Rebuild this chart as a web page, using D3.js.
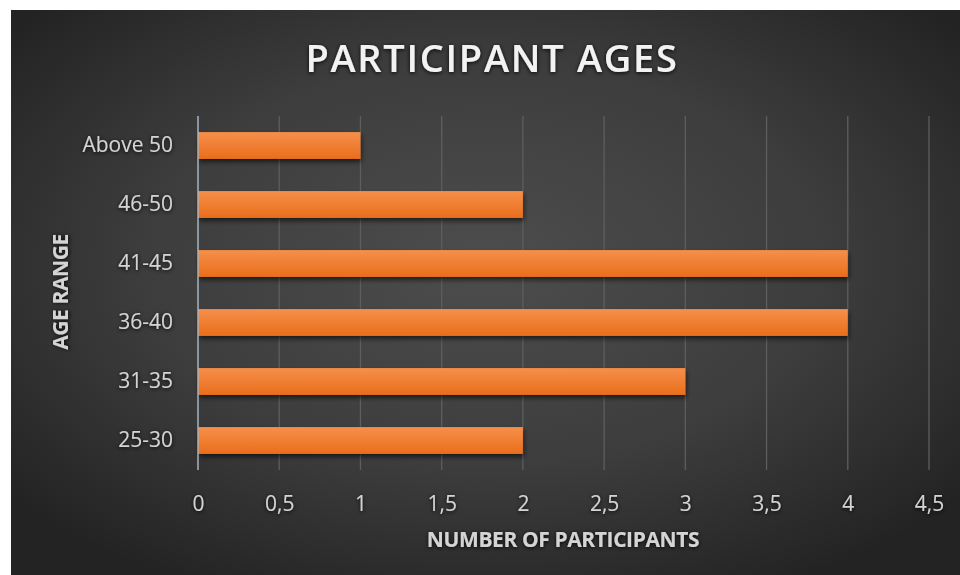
<!DOCTYPE html>
<html>
<head>
<meta charset="utf-8">
<script src="https://cdn.jsdelivr.net/npm/d3@7"></script>
<style>
  html, body { margin: 0; padding: 0; background: #ffffff; }
  svg { display: block; }
  text { font-family: "Open Sans", "Noto Sans", sans-serif; }
</style>
</head>
<body>
<svg id="chart" width="960" height="575"></svg>
<script>
// Participant counts per age range (top to bottom)
const categories = ["Above 50", "46-50", "41-45", "36-40", "31-35", "25-30"];
const participants = [1, 2, 4, 4, 3, 2];
const xTicks = [0, 0.5, 1, 1.5, 2, 2.5, 3, 3.5, 4, 4.5];
const title = "PARTICIPANT AGES";
const xTitle = "NUMBER OF PARTICIPANTS";
const yTitle = "AGE RANGE";

const svg = d3.select("#chart");
const W = 960, H = 575;
const frame = { x: 11, y: 10 };
const plot = { left: 198, right: 929, top: 116, bottom: 470 };

const defs = svg.append("defs");

// Dark radial backdrop
const bg = defs.append("radialGradient").attr("id", "bg")
  .attr("cx", "50%").attr("cy", "45%").attr("r", "65%");
bg.append("stop").attr("offset", "0%").attr("stop-color", "#4d4d4d");
bg.append("stop").attr("offset", "55%").attr("stop-color", "#3d3d3d");
bg.append("stop").attr("offset", "100%").attr("stop-color", "#232323");

// Orange bar fill, lighter at the top
const barGrad = defs.append("linearGradient").attr("id", "bar")
  .attr("x1", 0).attr("y1", 0).attr("x2", 0).attr("y2", 1);
barGrad.append("stop").attr("offset", "0%").attr("stop-color", "#f68f4a");
barGrad.append("stop").attr("offset", "100%").attr("stop-color", "#e96e1b");

const shadow = defs.append("filter").attr("id", "shadow")
  .attr("x", "-5%").attr("y", "-30%").attr("width", "110%").attr("height", "180%");
shadow.append("feDropShadow").attr("dx", 1).attr("dy", 3).attr("stdDeviation", 2.5)
  .attr("flood-color", "#000").attr("flood-opacity", 0.6);

const glow = defs.append("filter").attr("id", "glow")
  .attr("x", "-10%").attr("y", "-40%").attr("width", "120%").attr("height", "180%");
glow.append("feDropShadow").attr("dx", 0).attr("dy", 1).attr("stdDeviation", 2)
  .attr("flood-color", "#000").attr("flood-opacity", 0.9);

svg.append("rect").attr("x", frame.x).attr("y", frame.y)
  .attr("width", W - frame.x).attr("height", H - frame.y)
  .attr("fill", "url(#bg)");

const x = d3.scaleLinear().domain([0, 4.5]).range([plot.left, plot.right]);
const y = d3.scaleBand().domain(categories).range([plot.top, plot.bottom])
  .paddingInner(0.545).paddingOuter(0.2725);

// Vertical gridlines
svg.append("g").selectAll("line").data(xTicks.filter(d => d > 0)).join("line")
  .attr("x1", d => x(d)).attr("x2", d => x(d))
  .attr("y1", plot.top).attr("y2", plot.bottom)
  .attr("stroke", "#5e5e5e").attr("stroke-width", 1.3);

// Bars
svg.append("g").selectAll("rect").data(categories).join("rect")
  .attr("x", x(0))
  .attr("y", d => y(d))
  .attr("width", (d, i) => x(participants[i]) - x(0))
  .attr("height", y.bandwidth())
  .attr("fill", "url(#bar)")
  .attr("filter", "url(#shadow)");

// Value axis line at zero
svg.append("line").attr("x1", x(0)).attr("x2", x(0))
  .attr("y1", plot.top).attr("y2", plot.bottom)
  .attr("stroke", "#a9b4c2").attr("stroke-width", 1.5);

// X axis tick labels
const xAxis = d3.axisBottom(x).tickValues(xTicks)
  .tickFormat(d => String(d).replace(".", ",")).tickSize(0).tickPadding(0);
const gx = svg.append("g").attr("transform", `translate(0, ${plot.bottom + 41})`).call(xAxis);
gx.select(".domain").remove();
gx.selectAll("text").attr("fill", "#d4d4d4").attr("font-size", 21)
  .attr("dy", 0).attr("filter", "url(#glow)");

// Y axis category labels
const yAxis = d3.axisLeft(y).tickSize(0).tickPadding(25);
const gy = svg.append("g").attr("transform", `translate(${x(0)}, 0)`).call(yAxis);
gy.select(".domain").remove();
gy.selectAll("text").attr("fill", "#d4d4d4").attr("font-size", 21)
  .attr("filter", "url(#glow)");

// Titles
svg.append("text").attr("x", 492).attr("y", 72).attr("text-anchor", "middle")
  .attr("fill", "#f2f2f2").attr("font-size", 38).attr("font-weight", 600)
  .attr("letter-spacing", 1.7).attr("filter", "url(#glow)").text(title);

svg.append("text").attr("x", 563).attr("y", 547).attr("text-anchor", "middle")
  .attr("fill", "#d4d4d4").attr("font-size", 21).attr("font-weight", 700)
  .attr("letter-spacing", -0.4).attr("filter", "url(#glow)").text(xTitle);

svg.append("text").attr("transform", "translate(68, 292) rotate(-90)")
  .attr("text-anchor", "middle")
  .attr("fill", "#d4d4d4").attr("font-size", 21).attr("font-weight", 700)
  .attr("letter-spacing", -0.4).attr("filter", "url(#glow)").text(yTitle);
</script>
</body>
</html>
